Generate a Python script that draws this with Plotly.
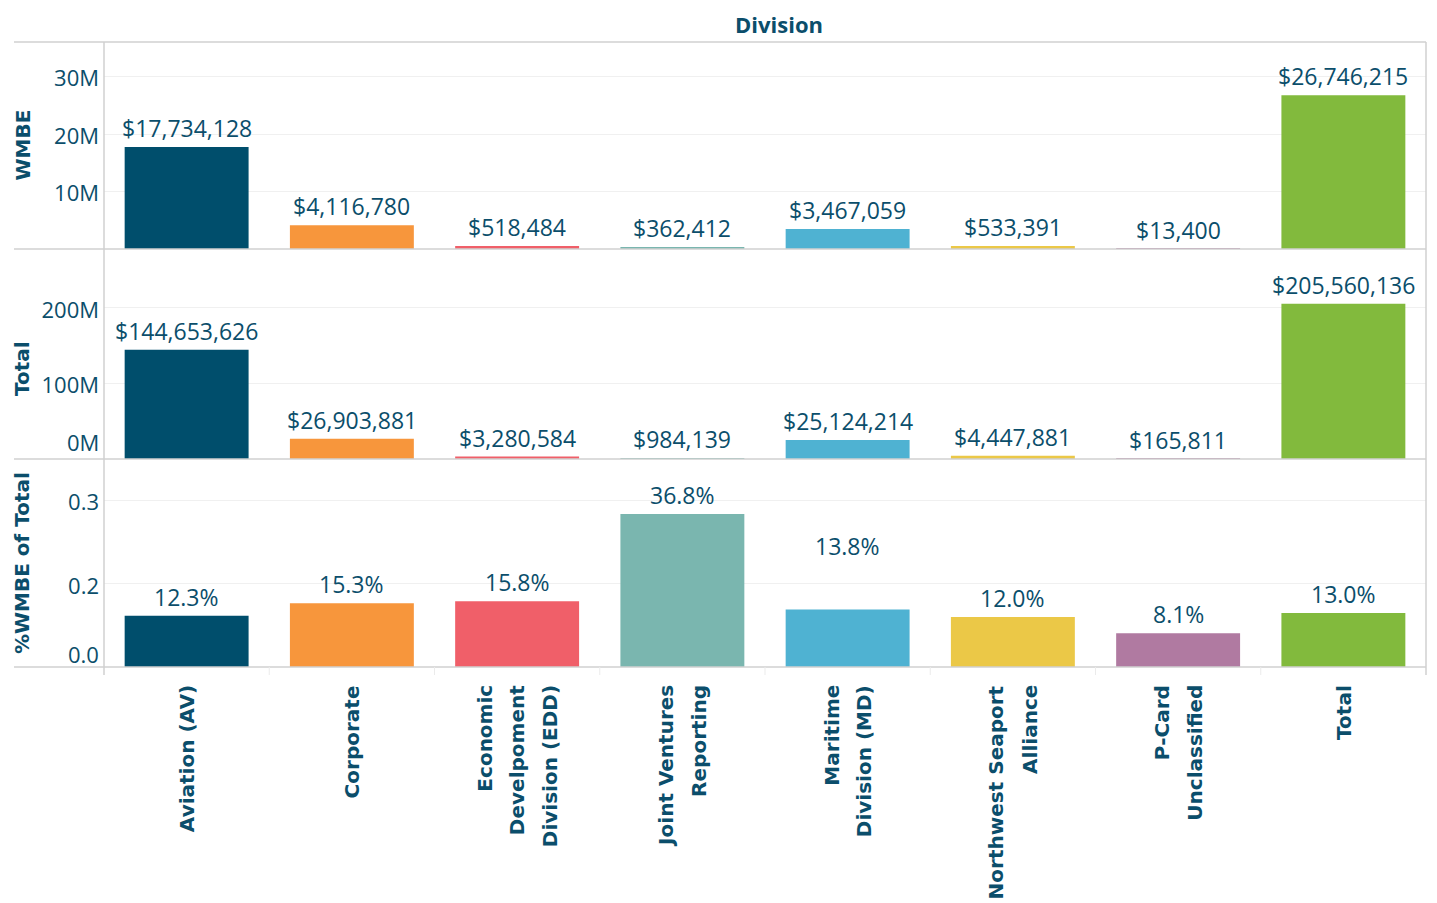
import plotly.graph_objects as go

# ---------------- data ----------------
categories = [
    "Aviation (AV)", "Corporate", "Economic Develpoment Division (EDD)",
    "Joint Ventures Reporting", "Maritime Division (MD)",
    "Northwest Seaport Alliance", "P-Card Unclassified", "Total",
]
category_lines = [
    ["Aviation (AV)"],
    ["Corporate"],
    ["Economic", "Develpoment", "Division (EDD)"],
    ["Joint Ventures", "Reporting"],
    ["Maritime", "Division (MD)"],
    ["Northwest Seaport", "Alliance"],
    ["P-Card", "Unclassified"],
    ["Total"],
]
wmbe_values = [17734128, 4116780, 518484, 362412, 3467059, 533391, 13400, 26746215]
total_values = [144653626, 26903881, 3280584, 984139, 25124214, 4447881, 165811, 205560136]
pct_values = [0.123, 0.153, 0.158, 0.368, 0.138, 0.120, 0.081, 0.130]

bar_colors = ["#004E6C", "#F7963C", "#F05F69", "#7AB6AF",
              "#4FB2D2", "#EBC847", "#B07AA1", "#82BA3D"]

wmbe_tickvals = [10e6, 20e6, 30e6]
wmbe_ticktext = ["10M", "20M", "30M"]
total_tickvals = [100e6, 200e6]
total_ticktext = ["100M", "200M"]
total_zero_label = "0M"
pct_tickvals = [0.2, 0.4]
pct_ticktext = ["0.2", "0.3"]
pct_zero_label = "0.0"

row_titles = ["WMBE", "Total", "%WMBE of Total"]
header_title = "Division"

# ---------------- styling ----------------
W, H = 1437, 903
OFF = 8  # page body margin
PW, PH = 1322, 625
ML, MT = 104 - OFF, 42 - OFF
MR, MB = W - ML - PW, H - MT - PH
TXT = "#0B4E6B"
LINE = "#D0D0D0"
GRID = "#F0F0F0"
VAL_FONT = dict(family="Open Sans, Noto Sans, sans-serif", size=23, color=TXT)
TICK_FONT = dict(family="Open Sans, Noto Sans, sans-serif", size=22, color=TXT)
BOLD_FONT = dict(family="DejaVu Sans, sans-serif", size=20, color=TXT, weight="bold")
CAT_FONT = dict(family="DejaVu Sans, sans-serif", size=20, color=TXT, weight="bold")

b1 = 207 / PH
b2 = 417 / PH
dom1 = [1 - b1, 1.0]
dom2 = [1 - b2, 1 - b1]
dom3 = [0.0, 1 - b2]

fig = go.Figure()
rows = [
    ("y", wmbe_values, lambda v: f"${v:,}"),
    ("y2", total_values, lambda v: f"${v:,}"),
    ("y3", pct_values, lambda v: f"{v*100:.1f}%"),
]
for yref, vals, fmt in rows:
    fig.add_trace(go.Bar(
        x=categories, y=vals, marker_color=bar_colors, width=0.75,
        xaxis="x", yaxis=yref, showlegend=False,
        marker_line_width=0, hoverinfo="x+y",
    ))

annotations = []
extra_shift = {("y3", "Maritime Division (MD)"): 45}
for yref, vals, fmt in rows:
    for c, v in zip(categories, vals):
        annotations.append(dict(
            x=c, y=v, xref="x", yref=yref, text=fmt(v), showarrow=False,
            yanchor="middle", yshift=19 + extra_shift.get((yref, c), 0),
            font=VAL_FONT,
        ))

# category labels (rotated, one annotation per line)
LINE_GAP = 33
for c, lines in zip(categories, category_lines):
    n = len(lines)
    for j, ln in enumerate(lines):
        annotations.append(dict(
            x=c, y=0, xref="x", yref="paper", text=ln, showarrow=False,
            textangle=-90, xanchor="center", yanchor="top",
            xshift=(j - (n - 1) / 2) * LINE_GAP, yshift=-16,
            font=CAT_FONT,
        ))

# zero tick labels (raised like the reference)
annotations.append(dict(x=0, y=0, xref="paper", yref="y2", text=total_zero_label,
                        showarrow=False, xanchor="right", yanchor="middle",
                        xshift=-3, yshift=17, font=TICK_FONT))
annotations.append(dict(x=0, y=0, xref="paper", yref="y3", text=pct_zero_label,
                        showarrow=False, xanchor="right", yanchor="middle",
                        xshift=-3, yshift=13, font=TICK_FONT))

# row titles
title_x = (22 - 104) / PW
for t, dom, ys in zip(row_titles, [dom1, dom2, dom3], [0, -15, 0]):
    annotations.append(dict(
        x=title_x, y=(dom[0] + dom[1]) / 2, xref="paper", yref="paper",
        text=t, showarrow=False, textangle=-90, xanchor="center",
        yanchor="middle", yshift=ys, font=BOLD_FONT,
    ))

# header
annotations.append(dict(
    x=(779 - 104) / PW, y=1 + 18 / PH, xref="paper", yref="paper",
    text=header_title, showarrow=False, xanchor="center", yanchor="middle",
    font=dict(family="Open Sans, sans-serif", size=22, color=TXT, weight="bold"),
))

# frame lines
left_x = (14 - 104) / PW
shapes = []
for yy in [1.0, dom1[0], dom2[0], 0.0]:
    shapes.append(dict(type="line", xref="paper", yref="paper", x0=left_x, x1=1,
                       y0=yy, y1=yy, line=dict(color=LINE, width=1.5)))
for xx in [0.0, 1.0]:
    shapes.append(dict(type="line", xref="paper", yref="paper", x0=xx, x1=xx,
                       y0=-8 / PH, y1=1.0, line=dict(color=LINE, width=1.5)))
for k in range(1, len(categories)):
    xx = k / len(categories)
    shapes.append(dict(type="line", xref="paper", yref="paper", x0=xx, x1=xx,
                       y0=-8 / PH, y1=0, line=dict(color="#EBEBEB", width=1)))

yax_common = dict(showgrid=True, gridcolor=GRID, gridwidth=1, zeroline=False,
                  showline=False, ticks="", tickfont=TICK_FONT,
                  ticklabelstandoff=4, ticklabelshift=2, anchor="x",
                  fixedrange=True)

fig.update_layout(
    width=W, height=H,
    margin=dict(l=ML, r=MR, t=MT, b=MB),
    paper_bgcolor="white", plot_bgcolor="white",
    xaxis=dict(domain=[0, 1], range=[-0.5, len(categories) - 0.5],
               showticklabels=False, showgrid=False, zeroline=False,
               showline=False, ticks="", anchor="y3", fixedrange=True),
    yaxis=dict(domain=dom1, range=[0, 36e6], tickvals=wmbe_tickvals,
               ticktext=wmbe_ticktext, **yax_common),
    yaxis2=dict(domain=dom2, range=[0, 278e6], tickvals=total_tickvals,
                ticktext=total_ticktext, **yax_common),
    yaxis3=dict(domain=dom3, range=[0, 0.5], tickvals=pct_tickvals,
                ticktext=pct_ticktext, **yax_common),
    annotations=annotations,
    shapes=shapes,
)

fig.write_html("out.html")
